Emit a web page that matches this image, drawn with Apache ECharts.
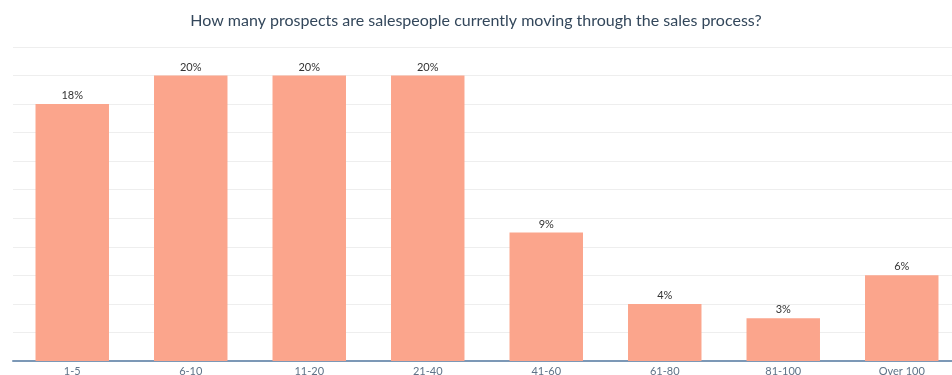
<!DOCTYPE html>
<html>
<head>
<meta charset="utf-8">
<script src="https://cdn.jsdelivr.net/npm/echarts@6/dist/echarts.min.js"></script>
<style>
  html, body { margin: 0; padding: 0; background: #fff; }
  #chart { width: 952px; height: 375px; }
</style>
</head>
<body>
<div id="chart"></div>
<script>
  var categories = ['1-5', '6-10', '11-20', '21-40', '41-60', '61-80', '81-100', 'Over 100'];
  var shares = [18, 20, 20, 20, 9, 4, 3, 6];

  var chart = echarts.init(document.getElementById('chart'));
  chart.setOption({
    animation: false,
    title: {
      text: 'How many prospects are salespeople currently moving through the sales process?',
      left: 'center',
      top: 8,
      textStyle: { fontFamily: 'Lato', fontSize: 16, fontWeight: 'normal', color: '#33475b' }
    },
    grid: {
      left: 13, width: 948, top: 47, bottom: 14,
      containLabel: false, outerBoundsMode: 'none'
    },
    xAxis: {
      type: 'category',
      data: categories,
      axisLine: { lineStyle: { color: '#7c98b6', width: 2 } },
      axisTick: { show: false },
      axisLabel: { fontFamily: 'Lato', fontSize: 11, color: '#5f7388', margin: 5 }
    },
    yAxis: {
      type: 'value',
      min: 0,
      max: 22,
      interval: 2,
      axisLabel: { show: false },
      axisLine: { show: false },
      axisTick: { show: false },
      splitLine: { lineStyle: { color: '#eeeeee', width: 1 } }
    },
    series: [{
      type: 'bar',
      data: shares,
      barWidth: '62%',
      itemStyle: { color: '#fba58c' },
      label: {
        show: true,
        position: 'top',
        distance: 3,
        formatter: '{c}%',
        fontFamily: 'Lato',
        fontSize: 11,
        color: '#333333'
      }
    }]
  });
</script>
</body>
</html>
